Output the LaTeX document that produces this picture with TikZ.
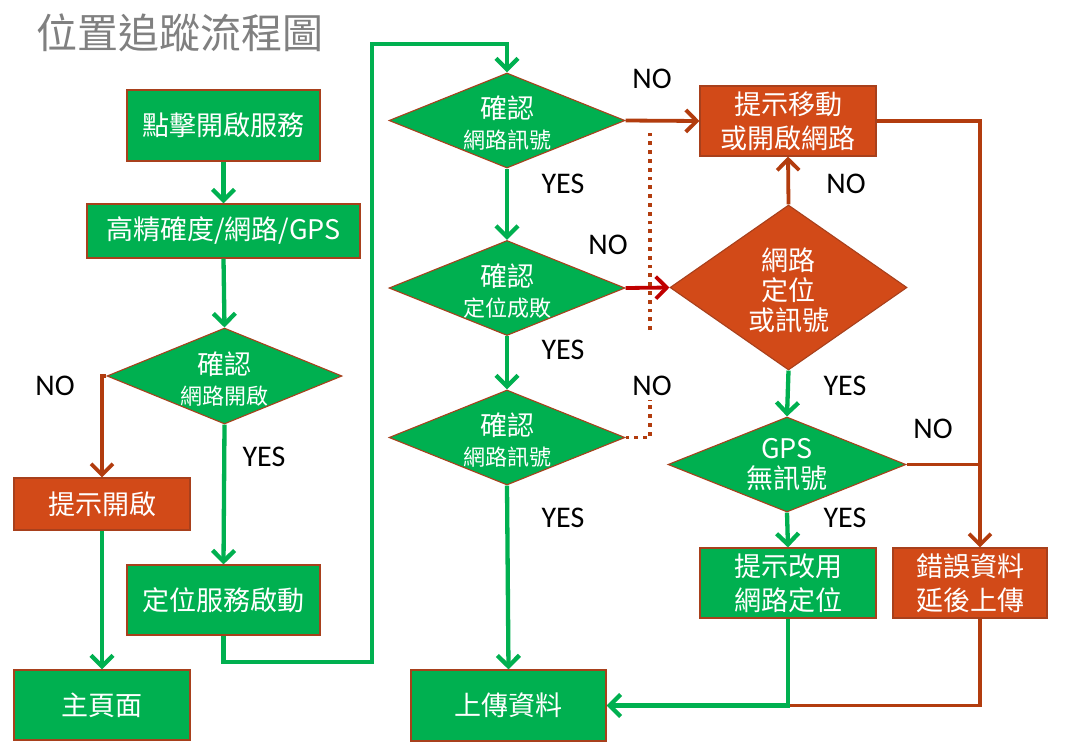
\documentclass[tikz,border=0pt]{standalone}
\usepackage{fontspec}
\setmainfont{Carlito}
\newfontfamily\cjk{Noto Sans CJK TC}
\usetikzlibrary{shapes.geometric,arrows.meta}
\definecolor{gn}{HTML}{00B050}
\definecolor{og}{HTML}{D24A18}
\definecolor{ol}{HTML}{B23C0E}
\definecolor{rd}{HTML}{C00000}
\definecolor{bd}{HTML}{A8401C}
\definecolor{tg}{HTML}{808080}
\begin{document}
\begin{tikzpicture}[x=1pt,y=-1pt,
  box/.style={rectangle, draw=bd, line width=1.1pt, fill=gn, text=white, inner sep=0pt, align=center, font=\cjk\fontsize{27}{34}\selectfont},
  obox/.style={box, fill=og},
  dia/.style={diamond, draw=bd, line width=1.1pt, fill=gn, inner sep=0pt},
  odia/.style={dia, fill=og},
  dtext/.style={text=white, align=center, inner sep=0pt, font=\cjk\fontsize{27}{30}\selectfont},
  lab/.style={font=\fontsize{30}{30}\selectfont, text=black, inner sep=0pt},
  tip/.style={-{Straight Barb[length=11pt,width=22pt]}},
  gline/.style={draw=gn, line width=4.3pt},
  garrow/.style={gline, tip},
  oline/.style={draw=ol, line width=3.8pt},
  oarrow/.style={oline, tip},
  rarrow/.style={draw=rd, line width=3.8pt, tip},
  dotline/.style={draw=ol, line width=3.8pt, dash pattern=on 3.8pt off 5pt}
]
\useasboundingbox (0,0) rectangle (1068,753);
\fill[white] (0,0) rectangle (1068,753);

% title
\node[text=tg, font=\cjk\fontsize{41}{41}\selectfont, inner sep=0pt] (title) at (180,33) {位置追蹤流程圖};

% left column
\node[box, minimum width=193pt, minimum height=71pt] (start) at (223.5,125.5) {點擊開啟服務};
\node[box, minimum width=273pt, minimum height=54pt] (hp) at (223.5,231) {高精確度/網路/GPS};
\node[dia, minimum width=235pt, minimum height=96pt] (dA) at (224.5,376) {};
\node[dtext] (dAt) at (224.5,379) {確認\\{\cjk\fontsize{22}{26}\selectfont 網路開啟}};
\node[obox, minimum width=176pt, minimum height=52pt] (tipOpen) at (102,504) {提示開啟};
\node[box, minimum width=193pt, minimum height=70pt] (svc) at (223.5,600) {定位服務啟動};
\node[box, minimum width=176pt, minimum height=70pt] (home) at (102,705) {主頁面};

% middle column
\node[dia, minimum width=236pt, minimum height=95pt] (d1) at (507,120.5) {};
\node[dtext] (d1t) at (507,123) {確認\\{\cjk\fontsize{22}{26}\selectfont 網路訊號}};
\node[dia, minimum width=236pt, minimum height=95pt] (d2) at (507,288) {};
\node[dtext] (d2t) at (507,291) {確認\\{\cjk\fontsize{22}{26}\selectfont 定位成敗}};
\node[dia, minimum width=236pt, minimum height=95pt] (d3) at (507,437.5) {};
\node[dtext] (d3t) at (507,440) {確認\\{\cjk\fontsize{22}{26}\selectfont 網路訊號}};
\node[box, minimum width=195pt, minimum height=71pt] (upload) at (508.5,705.5) {上傳資料};

% right column
\node[obox, minimum width=176pt, minimum height=70pt] (tipMove) at (788,121) {提示移動\\或開啟網路};
\node[odia, minimum width=237pt, minimum height=165pt] (dNet) at (788.5,287.5) {};
\node[dtext] (dNett) at (788.5,290) {網路\\定位\\或訊號};
\node[dia, minimum width=238pt, minimum height=95pt] (dGPS) at (787,464.5) {};
\node[dtext] (dGPSt) at (787,465) {GPS\\無訊號};
\node[box, minimum width=176pt, minimum height=70pt] (tipUse) at (788,583) {提示改用\\網路定位};
\node[obox, minimum width=154pt, minimum height=70pt] (err) at (970,583) {錯誤資料\\延後上傳};

% helper coordinates
\coordinate (lp1) at (372,662);
\coordinate (lp2) at (372,44);
\coordinate (r1) at (980,121);
\coordinate (dt1) at (650,400);
\coordinate (dt2) at (650,330);
\coordinate (dt3) at (650,128);

% dotted connector
\draw[dotline] (d3.east) -| (dt1);
\draw[dotline] (dt2) -- (dt3);

% left connectors
\draw[garrow] (start.south) -- (hp.north);
\draw[garrow] (hp.south) -- (dA.north);
\draw[oarrow] (dA.west) -| (tipOpen.north);
\draw[garrow] (dA.south) -- (svc.north);
\draw[garrow] (tipOpen.south) -- (home.north);
\draw[garrow] (svc.south) |- (lp1) -- (lp2) -| (d1.north);

% middle connectors
\draw[garrow] (d1.south) -- (d2.north);
\draw[garrow] (d2.south) -- (d3.north);
\draw[garrow] (d3.south) -- (upload.north);
\draw[oarrow] (d1.east) -- (tipMove.west);
\draw[rarrow] (d2.east) -- (dNet.west);

% right connectors
\draw[oarrow] (dNet.north) -- (tipMove.south);
\draw[garrow] (dNet.south) -- (dGPS.north);
\draw[garrow] (dGPS.south) -- (tipUse.north);
\draw[oarrow] (tipMove.east) -| (err.north -| r1);
\draw[oline] (dGPS.east) -- (dGPS.east -| r1);
\draw[oline] (err.south -| r1) |- (tipUse.south |- upload.east);
\draw[garrow] (tipUse.south) |- (upload.east);

% labels
\node[lab] (n1) at (55,386) {NO};
\node[lab] (y1) at (264,457) {YES};
\node[lab] (y2) at (563,184) {YES};
\node[lab] (y3) at (563,350) {YES};
\node[lab] (y4) at (563,518) {YES};
\node[lab] (n2) at (652,79) {NO};
\node[lab] (n3) at (608,245) {NO};
\node[lab] (n4) at (652,386) {NO};
\node[lab] (n5) at (846,184) {NO};
\node[lab] (y5) at (845,386) {YES};
\node[lab] (y6) at (845,518) {YES};
\node[lab] (n6) at (933,429) {NO};
\end{tikzpicture}
\end{document}
